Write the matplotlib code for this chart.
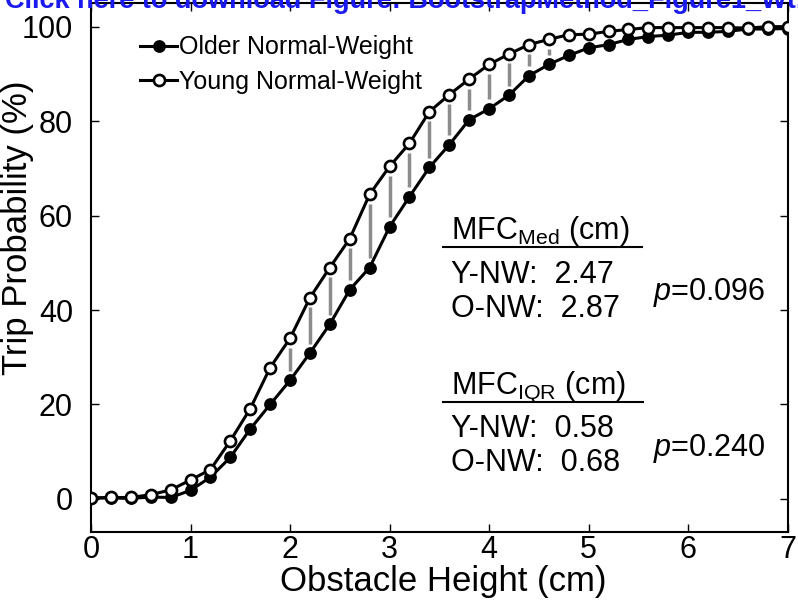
import matplotlib
matplotlib.use("Agg")
import matplotlib.pyplot as plt

# obstacle heights (cm)
heights = [0.0, 0.2, 0.4, 0.6, 0.8, 1.0, 1.2, 1.4, 1.6, 1.8,
           2.0, 2.2, 2.4, 2.6, 2.8, 3.0, 3.2, 3.4, 3.6, 3.8,
           4.0, 4.2, 4.4, 4.6, 4.8, 5.0, 5.2, 5.4, 5.6, 5.8,
           6.0, 6.2, 6.4, 6.6, 6.8, 7.0]

# trip probability (%) per group
older_nw = [0.2, 0.2, 0.1, 0.4, 0.3, 1.8, 4.6, 8.8, 14.8, 20.0,
            25.1, 30.9, 37.0, 44.3, 49.0, 57.6, 64.0, 70.2, 75.0, 80.3,
            82.6, 85.5, 89.6, 92.0, 93.9, 95.5, 96.2, 97.3, 97.9, 98.2,
            98.8, 98.8, 99.0, 99.5, 99.5, 99.6]
young_nw = [0.2, 0.3, 0.3, 0.9, 1.9, 4.0, 6.2, 12.3, 19.1, 27.8,
            34.0, 42.6, 49.0, 55.1, 64.5, 70.4, 75.3, 82.0, 85.6, 88.9,
            92.0, 94.2, 96.2, 97.3, 98.3, 98.4, 99.0, 99.4, 99.8, 99.8,
            99.8, 99.8, 99.8, 99.7, 100.0, 100.0]

# heights where the groups differ (grey bars)
sig_heights = [2.0, 2.2, 2.4, 2.6, 2.8, 3.0, 3.2, 3.4, 3.6, 3.8,
               4.0, 4.2, 4.4, 4.6]

xticks = [0, 1, 2, 3, 4, 5, 6, 7]
yticks = [0, 20, 40, 60, 80, 100]

plt.rcParams['font.family'] = ['Liberation Sans', 'DejaVu Sans']
plt.rcParams['mathtext.fontset'] = 'custom'
plt.rcParams['mathtext.rm'] = 'Liberation Sans'
plt.rcParams['mathtext.it'] = 'Liberation Sans:italic'

fig = plt.figure(figsize=(7.98, 6.07), dpi=100)
ax = fig.add_axes([0.114, 0.1236, 0.8731, 0.8714])

# grey bars between the curves, leaving a small gap at each marker
for h in sig_heights:
    i = heights.index(h)
    ax.plot([h, h], [older_nw[i] + 2.0, young_nw[i] - 2.0],
            color='#8c8c8c', lw=2.5, solid_capstyle='butt', zorder=1)

ax.plot(heights, older_nw, '-o', color='black', lw=2.2, ms=8,
        mfc='black', mec='black', mew=1.2, label='Older Normal-Weight', zorder=3)
ax.plot(heights, young_nw, '-o', color='black', lw=2.2, ms=8,
        mfc='white', mec='black', mew=1.9, label='Young Normal-Weight', zorder=4)

ax.set_xlim(0, 7)
ax.set_ylim(-7, 105)
ax.set_xticks(xticks)
ax.set_yticks(yticks)
ax.tick_params(direction='in', length=6, width=1, top=True, right=True,
               labelsize=22)
ax.tick_params(axis='x', pad=2)
ax.tick_params(axis='y', pad=13)
for s in ax.spines.values():
    s.set_linewidth(1.5)

ax.set_xlabel('Obstacle Height (cm)', fontsize=25)
ax.xaxis.set_label_coords(0.505, -0.062)
ax.set_ylabel('Trip Probability (%)', fontsize=25)
ax.yaxis.set_label_coords(-0.082, 0.575)

leg = ax.legend(loc='upper left', bbox_to_anchor=(0.071, 0.939), frameon=False,
                fontsize=18, handlelength=1.45, handletextpad=0.1,
                labelspacing=0.42, borderpad=0, borderaxespad=0)

# MFC summary text
fs = 22
ax.text(3.62, 55.0, r'MFC$_{\mathrm{Med}}$ (cm)', fontsize=fs, va='baseline')
ax.plot([3.54, 5.54], [53.3, 53.3], color='black', lw=1.5, clip_on=False)
ax.text(3.62, 45.8, 'Y-NW:  2.47', fontsize=fs, va='baseline')
ax.text(3.62, 38.5, 'O-NW:  2.87', fontsize=fs, va='baseline')
ax.text(5.65, 42.2, r'$\it{p}$=0.096', fontsize=fs, va='baseline')

ax.text(3.62, 22.2, r'MFC$_{\mathrm{IQR}}$ (cm)', fontsize=fs, va='baseline')
ax.plot([3.54, 5.55], [20.5, 20.5], color='black', lw=1.5, clip_on=False)
ax.text(3.62, 13.2, 'Y-NW:  0.58', fontsize=fs, va='baseline')
ax.text(3.62, 6.0, 'O-NW:  0.68', fontsize=fs, va='baseline')
ax.text(5.65, 9.0, r'$\it{p}$=0.240', fontsize=fs, va='baseline')

# download banner cut off at the top edge
fig.text(0.006, 1 - 7.5 / 607, 'Click here to download Figure: BootstrapMethod_Figure1_Wt.tif',
         fontsize=19.5, fontweight='bold', color='#1a1aee', va='baseline', ha='left')

fig.savefig('out.png', dpi=100)
